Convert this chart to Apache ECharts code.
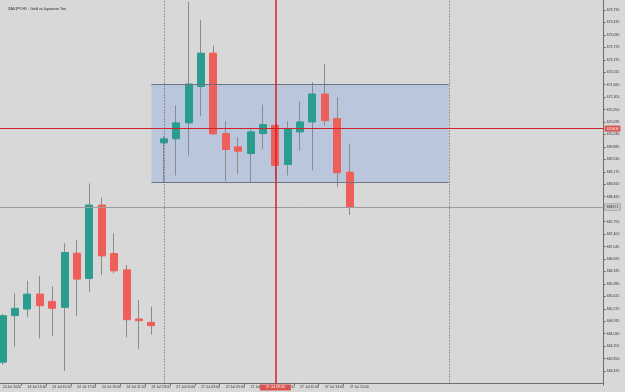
<!DOCTYPE html>
<html><head><meta charset="utf-8">
<script src="https://cdn.jsdelivr.net/npm/echarts@6/dist/echarts.min.js"></script>
<style>html,body{margin:0;padding:0;background:#d8d8d8}#c{width:625px;height:392px}</style>
</head><body><div id="c"></div>
<script>
const chartTitle = 'XAUJPY,H1 · Gold vs Japanese Yen';
const categories = ['24 Jul 2024','24 Jul 12:00','24 Jul 13:00','24 Jul 14:00','24 Jul 15:00','24 Jul 16:00','24 Jul 17:00','24 Jul 18:00','24 Jul 19:00','24 Jul 20:00','24 Jul 21:00','24 Jul 22:00','24 Jul 23:00',
  '27 Jul 00:00','27 Jul 01:00','27 Jul 02:00','27 Jul 03:00','27 Jul 04:00','27 Jul 05:00','27 Jul 06:00','27 Jul 07:00','27 Jul 08:00','27 Jul 09:00','27 Jul 10:00','27 Jul 11:00','27 Jul 12:00','27 Jul 13:00','27 Jul 14:00','27 Jul 15:00'];
const opens  = [663748,665073,665263,665689,665482,665311,666855,666136,668228,666846,666380,664979,664885,670001,670115,670570,671610,672559,670266,669888,669697,670266,670502,669384,670314,670598,671394,670692,669166];
const closes = [665073,665283,665689,665357,665283,666875,666116,668228,666778,666352,664959,664931,664788,670115,670570,671678,672559,670257,669811,669763,670314,670521,669356,670399,670598,671394,670635,669149,668171];
const lows   = [663671,664192,665027,664430,664504,663501,665073,665755,666230,666286,664459,664126,664533,668873,669072,669640,670757,670230,668910,669120,668864,669831,668958,669072,669782,669214,670493,668739,667943];
const highs  = [665121,665709,666068,666210,665908,667139,667224,668844,668438,667423,666522,665519,665329,670180,671070,674017,673506,672767,670615,670160,670428,671090,670550,670615,671175,671735,672255,671297,669981];
const slotCount = 49;
const crosshairIndex = 22, crosshairPrice = 670408, bidPrice = 668171;
const zoneStart = 12, zoneEnd = 36, zoneTop = 671678, zoneBottom = 668864;
const separators = [13, 36];
const yMin = 663140, yMax = 674074, yStep = 355;

const FONT = 'Liberation Sans';
const axisSlots = categories.concat(new Array(slotCount - categories.length).fill(''));
const bodies = opens.map((o, i) => [o, closes[i], Math.min(o, closes[i]), Math.max(o, closes[i])]);
const wicks = opens.map((o, i) => [o, closes[i], lows[i], highs[i]]);
const vline = (x) => [{coord: [x, yMin]}, {coord: [x, yMax]}];
const hseg = (x0, x1, y) => [{coord: [x0, y]}, {coord: [x1, y]}];
const showIdx = (i) => i % 2 === 0 && i < categories.length;

const RED = '#d0222a';
const chart = echarts.init(document.getElementById('c'), null, {renderer: 'canvas'});
chart.setOption({
  backgroundColor: '#d8d8d8',
  animation: false,
  title: {text: chartTitle, left: 3, top: 2, textStyle: {fontSize: 3.6, fontWeight: 'normal', color: '#222', fontFamily: FONT}},
  grid: {left: -3.5, right: 21.3, top: 0, bottom: 8.5, containLabel: false, outerBoundsMode: 'none'},
  xAxis: {
    type: 'category', data: axisSlots, boundaryGap: true,
    axisLine: {lineStyle: {color: '#6e6e6e', width: 1}},
    axisTick: {show: true, length: 2, interval: showIdx, lineStyle: {color: '#6e6e6e'}},
    axisLabel: {interval: showIdx, align: 'left', margin: 2, fontSize: 3.5, color: '#333', fontFamily: FONT},
    splitLine: {show: false}
  },
  yAxis: {
    type: 'value', position: 'right', min: yMin, max: yMax, interval: yStep, scale: true,
    axisLine: {show: true, lineStyle: {color: '#6e6e6e', width: 1}},
    axisTick: {show: true, length: 2, lineStyle: {color: '#6e6e6e'}},
    axisLabel: {showMinLabel: false, showMaxLabel: false, margin: 3, fontSize: 3.5, color: '#333', fontFamily: FONT},
    splitLine: {show: false}
  },
  series: [
    {type: 'line', data: [], z: 1, silent: true,
     markArea: {silent: true, itemStyle: {color: '#b9c6dc', borderWidth: 0},
       data: [[{xAxis: zoneStart, yAxis: zoneTop}, {xAxis: zoneEnd, yAxis: zoneBottom}]]},
     markLine: {silent: true, symbol: 'none', label: {show: false}, lineStyle: {color: '#6f7585', width: 1, type: 'solid'},
       data: [hseg(zoneStart, zoneEnd, zoneTop), hseg(zoneStart, zoneEnd, zoneBottom)]}
    },
    {type: 'candlestick', name: 'wick', data: wicks, z: 2, barWidth: 1,
     itemStyle: {color: 'transparent', color0: 'transparent', borderColor: '#8a8a8a', borderColor0: '#8a8a8a', borderWidth: 1}},
    {type: 'candlestick', name: 'body', data: bodies, z: 3, barWidth: 7.5,
     itemStyle: {color: '#2a9d8f', color0: '#ef5f5a', borderColor: '#2a9d8f', borderColor0: '#ef5f5a', borderWidth: 1}},
    {type: 'line', data: [], z: 4, silent: true,
     markLine: {silent: true, symbol: 'none', label: {show: false}, lineStyle: {color: '#555', width: 1, type: [1, 2]},
       data: separators.map(vline)}
    },
    {type: 'line', data: [], z: 4, silent: true,
     markLine: {silent: true, symbol: 'none', lineStyle: {color: '#9c9c9c', width: 1, type: 'solid'},
       label: {show: true, position: 'end', distance: 1, formatter: () => String(bidPrice), fontSize: 3.5, color: '#333', backgroundColor: '#c9c9c9', borderColor: '#888', borderWidth: 0.5, padding: [1, 2], fontFamily: FONT},
       data: [{yAxis: bidPrice}]}
    },
    {type: 'line', data: [], z: 6, silent: true,
     markLine: {silent: true, symbol: 'none', lineStyle: {color: RED, width: 1, type: 'solid'},
       label: {show: true, position: 'end', distance: 1, formatter: () => String(crosshairPrice), fontSize: 3.5, color: '#fff', backgroundColor: '#d9534f', padding: [1, 2], fontFamily: FONT},
       data: [{yAxis: crosshairPrice}]}
    },
    {type: 'line', data: [], z: 6, silent: true,
     markLine: {silent: true, symbol: 'none', lineStyle: {color: '#d81e28', width: 1.5, type: 'solid', opacity: 1},
       label: {show: true, position: 'start', distance: 1, formatter: () => categories[crosshairIndex], fontSize: 3.5, color: '#fff', backgroundColor: '#d9534f', padding: [1, 6], fontFamily: FONT},
       data: [vline(crosshairIndex)]}
    }
  ]
});
</script></body></html>
